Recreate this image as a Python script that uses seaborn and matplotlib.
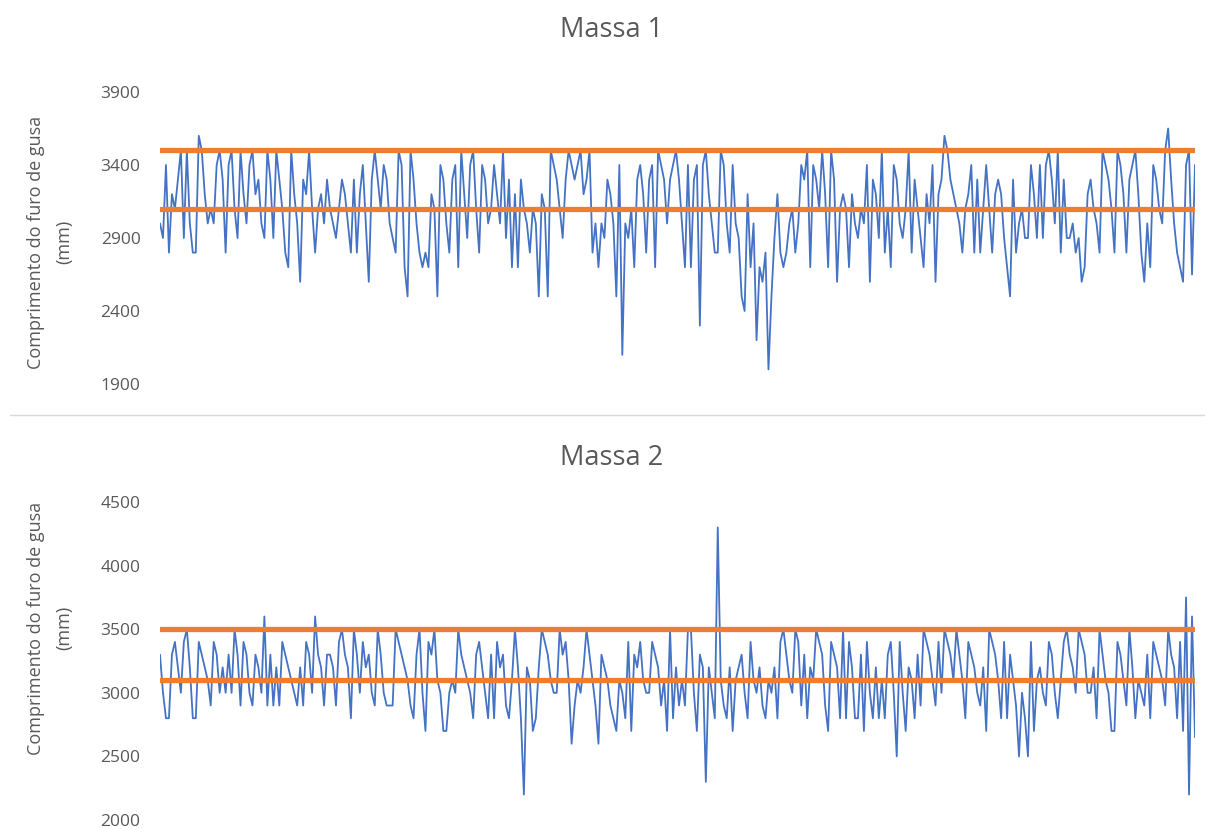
import numpy as np
import pandas as pd
import matplotlib
matplotlib.use("Agg")
import matplotlib.pyplot as plt
import seaborn as sns
from matplotlib.lines import Line2D

# ---------------- data (mm) ----------------
massa1 = [
    3000,2900,3400,2800,3200,3100,3300,3500,2900,3500,3000,2800,2800,3600,3500,3200,3000,3100,3000,3400,
    3500,3300,2800,3400,3500,3100,2900,3500,3200,3000,3400,3500,3200,3300,3000,2900,3500,3300,2900,3500,
    3300,3100,2800,2700,3500,3200,3000,2600,3300,3200,3500,3100,2800,3100,3200,3000,3300,
    3100,3000,2900,3100,3300,3200,3000,2800,3300,2800,3200,3400,3000,2600,3300,3500,3300,3100,3400,3300,
    3000,2900,2800,3500,3400,2700,2500,3500,3300,3000,2800,2700,2800,2700,3200,3100,2500,3400,3300,3000,
    2800,3300,3400,2700,3500,3200,2900,3400,3500,3100,2800,3400,3300,3000,3100,3400,3200,3000,
    3500,2900,3300,2700,3200,2700,3300,3100,3000,2800,3100,3000,2500,3200,3100,2500,3500,3400,3300,3100,
    2900,3300,3500,3400,3300,3400,3500,3200,3300,3500,2800,3000,2700,3000,2900,3300,3200,3000,2500,3400,
    2100,3000,2900,3100,2700,3300,3400,3200,2800,3300,3400,2700,3500,3400,3300,3000,3300,3400,
    3500,3300,3000,2700,3400,2700,3300,3400,2300,3400,3500,3200,3000,2800,2800,3500,3400,3000,2800,3400,
    3000,2900,2500,2400,3200,2700,3000,2200,2700,2600,2800,2000,2500,2900,3200,2800,2700,2800,3000,3100,
    2800,3000,3400,3300,3500,2700,3400,3300,3100,3500,3200,2700,3500,3300,2600,3100,3200,3100,
    2700,3200,3000,2900,3100,3000,3400,2600,3300,3200,2900,3500,2800,3100,2700,3400,3300,3000,2900,3100,
    3500,2800,3300,3100,2900,2700,3200,3000,3400,2600,3200,3300,3600,3500,3300,3200,3100,3000,2800,3100,
    3200,3400,2800,3300,2800,3100,3400,3100,2800,3200,3300,3200,2900,2700,2500,3300,2800,3000,
    3100,2900,2900,3400,3200,2900,3400,2900,3400,3500,3300,3000,3500,2800,3300,2900,2900,3000,2800,2900,
    2600,2700,3200,3300,3100,3000,2800,3500,3400,3300,3100,2800,3500,3400,3200,2800,3300,3400,3500,3200,
    2800,2600,3000,2700,3400,3300,3100,3000,3500,3650,3300,3000,2800,2700,2600,3400,3500,2650,3400,
]

massa2 = [
    3300,3000,2800,2800,3300,3400,3200,3000,3400,3500,3200,2800,2800,3400,3300,3200,3100,2900,3400,3300,
    3000,3200,3000,3300,3000,3500,3300,2900,3400,3300,3000,2900,3300,3200,3000,3600,2900,3300,2900,3200,
    2900,3400,3300,3200,3100,3000,2900,3200,2900,3400,3300,3000,3600,3300,3200,2900,3300,
    3300,3200,2900,3400,3500,3300,3200,2800,3500,3300,3000,3400,3200,3300,3000,2900,3500,3300,3000,2900,
    2900,2900,3500,3400,3300,3200,3100,2900,2800,3300,3500,3000,2700,3400,3300,3500,3100,3000,2700,2700,
    3000,3100,3000,3500,3300,3200,3100,3000,2800,3300,3400,3200,3000,2800,3300,2800,3400,3200,
    3300,2900,2800,3100,3500,3200,2800,2200,3200,3100,2700,2800,3200,3500,3400,3300,3100,3000,3000,3500,
    3300,3400,3100,2600,2900,3100,3000,3200,3500,3300,3100,2900,2600,3300,3200,3100,2900,2800,2700,3100,
    3000,2800,3400,2700,3300,3200,3400,3100,3000,3000,3400,3300,3200,2900,3100,2700,3500,2800,
    3200,2900,3100,2900,3500,3500,3000,2700,3300,3200,2300,3200,3000,2800,4300,3100,2900,2800,3200,2700,
    3100,3200,3300,3000,2800,3400,3100,3000,3200,2900,2800,3100,3000,3200,2800,3400,3500,3300,3100,3000,
    3500,3400,2900,3300,2800,3200,3100,3500,3400,3300,2900,2700,3400,3300,3200,2800,3500,2800,
    3400,3200,2800,2800,3300,2700,3400,3000,2800,3200,2800,3100,2800,3300,3400,3000,2500,3400,3000,2700,
    3200,3100,2800,3300,2900,3500,3400,3300,3100,2900,3400,3000,3500,3400,3300,3100,3500,3300,3100,2800,
    3400,3300,3200,3000,2900,3200,2700,3500,3400,3300,3100,2800,3400,2800,3300,3100,2900,2500,
    3000,2800,2500,3400,2700,3100,3200,3000,2900,3400,3300,3000,2800,3100,3400,3500,3300,3200,3000,3500,
    3400,3300,3000,3000,3200,2800,3500,3300,3100,3000,2700,2700,3400,3300,3100,2900,3500,3200,2800,3100,
    3000,2900,3300,2800,3400,3300,3200,3100,2900,3500,3300,3200,2800,3400,2700,3750,2200,3600,2650,
]

upper_limit = 3500
lower_limit = 3100

titles = ["Massa 1", "Massa 2"]
ylabel = "Comprimento do furo de gusa\n(mm)"
yticks_1 = [1900, 2400, 2900, 3400, 3900]
yticks_2 = [2000, 2500, 3000, 3500, 4000, 4500]

# ---------------- style ----------------
sns.set_theme(style="white")
plt.rcParams["font.family"] = ["Open Sans", "DejaVu Sans"]
BLUE = "#4472C4"
ORANGE = "#ED7D31"
GREY = "#595959"

W, H = 1206, 830
fig = plt.figure(figsize=(W / 100, H / 100), dpi=100)

def px_axes(left, right, top, bottom):
    return fig.add_axes([left / W, 1 - bottom / H, (right - left) / W, (bottom - top) / H])

ax1 = px_axes(160, 1195, 92, 384)
ax2 = px_axes(160, 1195, 502, 820)

panels = [
    (ax1, massa1, (1900, 3900), yticks_1, titles[0], 30, 242),
    (ax2, massa2, (2000, 4500), yticks_2, titles[1], 458, 628),
]

for ax, vals, ylim, yticks, title, ty, ly in panels:
    n = len(vals)
    df = pd.DataFrame({
        "idx": np.arange(n),
        "valor": vals,
        "sup": np.full(n, upper_limit),
        "inf": np.full(n, lower_limit),
    })
    sns.lineplot(data=df, x="idx", y="valor", ax=ax, color=BLUE, linewidth=1.3)
    sns.lineplot(data=df, x="idx", y="sup", ax=ax, color=ORANGE, linewidth=3.8)
    sns.lineplot(data=df, x="idx", y="inf", ax=ax, color=ORANGE, linewidth=3.8)
    ax.set_xlim(0, n - 1)
    ax.set_ylim(*ylim)
    ax.set_yticks(yticks)
    ax.set_yticklabels([str(t) for t in yticks])
    ax.set_xticks([])
    ax.set_xlabel("")
    ax.set_ylabel("")
    ax.tick_params(axis="y", length=0, pad=14, labelsize=12.5, labelcolor=GREY)
    for s in ax.spines.values():
        s.set_visible(False)
    ax.set_facecolor("none")
    fig.text(612 / W, 1 - ty / H, title, ha="center", va="center", fontsize=19.5, color=GREY)
    fig.text(50 / W, 1 - ly / H, ylabel, ha="center", va="center", rotation=90,
             fontsize=13, color=GREY, multialignment="center", linespacing=1.7)

# separator line between the two charts
fig.add_artist(Line2D([10 / W, 1204 / W], [1 - 415 / H, 1 - 415 / H],
                      color="#D9D9D9", linewidth=1.0, transform=fig.transFigure))

fig.savefig("out.png", dpi=100, facecolor="white")
